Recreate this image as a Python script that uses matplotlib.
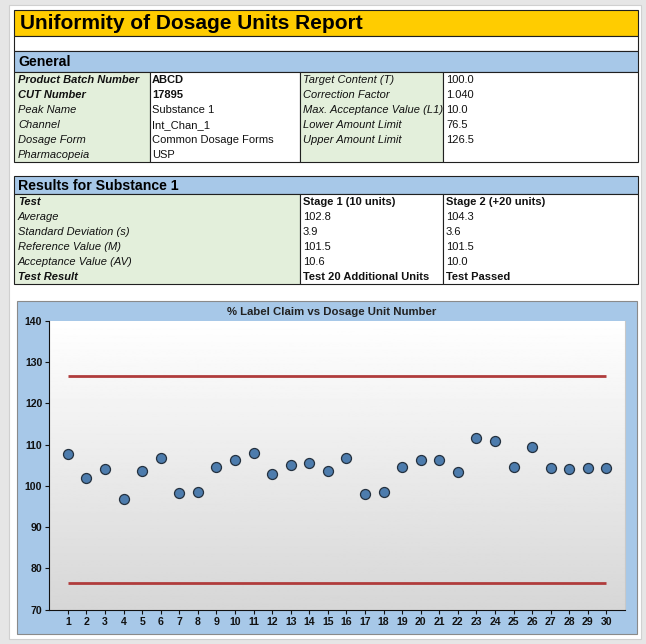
import numpy as np
import matplotlib
matplotlib.use("Agg")
import matplotlib.pyplot as plt
from matplotlib.patches import Rectangle

plt.rcParams['font.family'] = ['Liberation Sans', 'DejaVu Sans']

# Report data
report_title = "Uniformity of Dosage Units Report"
general_labels_left = ["Product Batch Number", "CUT Number", "Peak Name",
                       "Channel", "Dosage Form", "Pharmacopeia"]
general_values_left = ["ABCD", "17895", "Substance 1", "Int_Chan_1",
                       "Common Dosage Forms", "USP"]
general_labels_right = ["Target Content (T)", "Correction Factor",
                        "Max. Acceptance Value (L1)", "Lower Amount Limit",
                        "Upper Amount Limit", ""]
general_values_right = ["100.0", "1.040", "10.0", "76.5", "126.5", ""]

results_labels = ["Test", "Average", "Standard Deviation (s)",
                  "Reference Value (M)", "Acceptance Value (AV)", "Test Result"]
stage1_values = ["Stage 1 (10 units)", "102.8", "3.9", "101.5", "10.6",
                 "Test 20 Additional Units"]
stage2_values = ["Stage 2 (+20 units)", "104.3", "3.6", "101.5", "10.0",
                 "Test Passed"]

# Chart data
units = list(range(1, 31))
label_claim = [107.8, 102.0, 104.0, 96.8, 103.5, 106.7, 98.2, 98.5, 104.5, 106.2,
               108.0, 102.9, 105.0, 105.6, 103.5, 106.8, 98.1, 98.5, 104.6, 106.2,
               106.2, 103.4, 111.6, 110.8, 104.6, 109.3, 104.4, 104.0, 104.2, 104.2]
lower_limit = 76.5
upper_limit = 126.5
chart_title = "% Label Claim vs Dosage Unit Number"

W, H = 646, 644
YELLOW = '#ffcc00'
BLUE = '#a7c8e8'
GREEN = '#e3efdb'
BORDER = '#202020'

fig = plt.figure(figsize=(W / 100, H / 100), dpi=100)
fig.patch.set_facecolor('#e6e6e6')

# full-figure axes in pixel coordinates for the report layout
bg = fig.add_axes([0, 0, 1, 1])
bg.set_xlim(0, W)
bg.set_ylim(H, 0)
bg.axis('off')


def box(x0, y0, x1, y1, fc, ec=BORDER, lw=0.8, zorder=1):
    bg.add_patch(Rectangle((x0, y0), x1 - x0, y1 - y0, facecolor=fc,
                           edgecolor=ec, linewidth=lw, zorder=zorder))


def rows_text(x, y0, texts, styles, row_h=15):
    for i, t in enumerate(texts):
        weight, style = styles[i]
        bg.text(x, y0 + row_h * (i + 0.5) + 0.5, t, fontsize=8.0,
                fontweight=weight, fontstyle=style, color='#111111',
                ha='left', va='center', zorder=5)


# white page
box(9, 5, 641, 639, 'white', ec='#d0d0d0', lw=0.8, zorder=0)

# title section
box(14, 10, 638, 36, YELLOW)
box(14, 36, 638, 51, 'white')
bg.text(20, 23.5, report_title, fontsize=15, fontweight='bold',
        ha='left', va='center', color='black', zorder=5)

# General table
box(14, 51, 638, 72, BLUE)
bg.text(18, 62, "General", fontsize=10.2, fontweight='bold',
        ha='left', va='center', color='black', zorder=5)
gen_cols = [14, 150, 300, 443, 638]
gen_fills = [GREEN, 'white', GREEN, 'white']
for k in range(4):
    box(gen_cols[k], 72, gen_cols[k + 1], 162, gen_fills[k])
left_styles = [('bold', 'italic'), ('bold', 'italic')] + [('normal', 'italic')] * 4
value_styles = [('bold', 'normal'), ('bold', 'normal')] + [('normal', 'normal')] * 4
rows_text(18, 72, general_labels_left, left_styles)
rows_text(152, 72, general_values_left, value_styles)
rows_text(303, 72, general_labels_right, [('normal', 'italic')] * 6)
rows_text(446, 72, general_values_right, [('normal', 'normal')] * 6)

# Results table
box(14, 176, 638, 194, BLUE)
bg.text(18, 185.5, "Results for Substance 1", fontsize=10.2, fontweight='bold',
        ha='left', va='center', color='black', zorder=5)
res_cols = [14, 300, 443, 638]
res_fills = [GREEN, 'white', 'white']
for k in range(3):
    box(res_cols[k], 194, res_cols[k + 1], 284, res_fills[k])
res_label_styles = [('bold', 'italic')] + [('normal', 'italic')] * 4 + [('bold', 'italic')]
res_value_styles = [('bold', 'normal')] + [('normal', 'normal')] * 4 + [('bold', 'normal')]
rows_text(18, 194, results_labels, res_label_styles)
rows_text(303, 194, stage1_values, res_value_styles)
rows_text(446, 194, stage2_values, res_value_styles)

# chart panel
box(17, 301, 637, 634, BLUE, ec='#8a8a8a', lw=0.8)
bg.text(332, 312, chart_title, fontsize=8.2, fontweight='bold',
        ha='center', va='center', color='#222222', zorder=5)

# plot area
px0, px1, py0, py1 = 49.3, 625, 320.7, 609.6
ax = fig.add_axes([px0 / W, (H - py1) / H, (px1 - px0) / W, (py1 - py0) / H])
ax.set_zorder(3)
grad = np.linspace(1.0, 0.84, 256).reshape(-1, 1)
ax.imshow(grad, cmap='gray', vmin=0, vmax=1, aspect='auto',
          extent=[0, 1, 0, 1], transform=ax.transAxes, zorder=0)

ax.hlines([upper_limit, lower_limit], units[0], units[-1],
          colors='#b03c3c', linewidth=2.0, zorder=2)
ax.plot(units, label_claim, linestyle='none', marker='o', markersize=7.2,
        markerfacecolor='#4d7cad', markeredgecolor='#24313f',
        markeredgewidth=0.9, zorder=3)

ax.set_xlim(0, 31)
ax.set_ylim(70, 140)
ax.set_xticks(units)
ax.set_yticks(range(70, 141, 10))
ax.tick_params(axis='both', labelsize=7.6, length=3, width=0.8,
               colors='#111111', pad=2)
for lab in ax.get_xticklabels() + ax.get_yticklabels():
    lab.set_fontweight('bold')
ax.spines['top'].set_visible(False)
ax.spines['right'].set_color('#c8c8c8')
ax.spines['left'].set_color('#111111')
ax.spines['bottom'].set_color('#111111')

fig.savefig('out.png', dpi=100, facecolor=fig.get_facecolor())
